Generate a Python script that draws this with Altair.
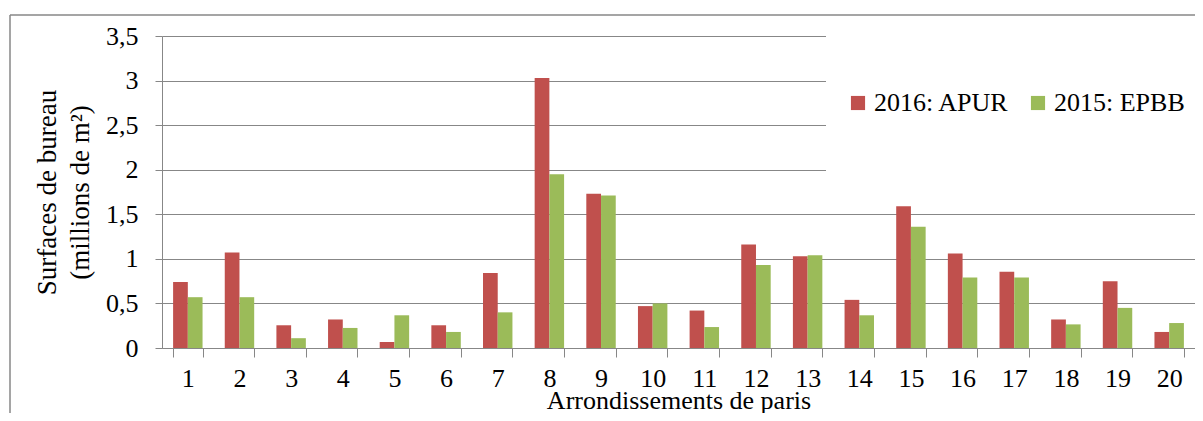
import altair as alt
import pandas as pd

arrondissements = [str(i) for i in range(1, 21)]
apur_2016 = [0.74, 1.07, 0.255, 0.32, 0.067, 0.255, 0.84, 3.03, 1.73, 0.47,
             0.42, 1.16, 1.03, 0.54, 1.59, 1.06, 0.855, 0.32, 0.75, 0.18]
epbb_2015 = [0.57, 0.57, 0.11, 0.225, 0.367, 0.18, 0.40, 1.95, 1.71, 0.50,
             0.235, 0.93, 1.04, 0.367, 1.36, 0.79, 0.79, 0.265, 0.45, 0.28]
series_names = ["2016: APUR", "2015: EPBB"]
series_colors = ["#C0504D", "#9BBB59"]
y_ticks = [0, 0.5, 1, 1.5, 2, 2.5, 3, 3.5]

rows = []
for a, v1, v2 in zip(arrondissements, apur_2016, epbb_2015):
    rows.append({"arr": a, "series": series_names[0], "value": v1})
    rows.append({"arr": a, "series": series_names[1], "value": v2})
df = pd.DataFrame(rows)

FONT = "Liberation Serif"
GRAY = "#878787"

bars = alt.Chart(df).mark_bar().encode(
    x=alt.X("arr:N", sort=arrondissements,
            scale=alt.Scale(paddingInner=0.43, paddingOuter=0.215),
            axis=alt.Axis(title="Arrondissements de paris", labelAngle=0,
                          tickBand="extent", tickSize=9, grid=False,
                          domainColor=GRAY, tickColor=GRAY,
                          labelFont=FONT, labelFontSize=26, labelPadding=8,
                          titleFont=FONT, titleFontSize=26, titleFontWeight="normal",
                          titleBaseline="alphabetic", titleY=60)),
    xOffset=alt.XOffset("series:N", sort=series_names),
    y=alt.Y("value:Q", scale=alt.Scale(domain=[0, 3.5], nice=False),
            axis=alt.Axis(title=["Surfaces de bureau", "(millions de m²)"],
                          values=y_ticks,
                          labelExpr="replace(toString(datum.value), '.', ',')",
                          tickSize=7, labelPadding=17,
                          domainColor=GRAY, tickColor=GRAY, gridColor=GRAY,
                          labelFont=FONT, labelFontSize=26,
                          titleFont=FONT, titleFontSize=27, titleFontWeight="normal",
                          titleLineHeight=33, titlePadding=11)),
    color=alt.Color("series:N", sort=series_names,
                    scale=alt.Scale(domain=series_names, range=series_colors),
                    legend=alt.Legend(title=None, orient="none", direction="horizontal",
                                      legendX=683, legendY=54,
                                      symbolType="square", symbolSize=200,
                                      symbolStrokeWidth=0,
                                      labelFont=FONT, labelFontSize=26,
                                      labelOffset=3, columnPadding=15)),
)

tiny = pd.DataFrame({"a": [0]})
cover = alt.Chart(tiny).mark_rect(color="white").encode(
    x=alt.value(664), x2=alt.value(1080), y=alt.value(-12), y2=alt.value(155))
frame_top = alt.Chart(tiny).mark_rule(color=GRAY, strokeWidth=1.5).encode(
    x=alt.value(-152), x2=alt.value(1080), y=alt.value(-21))
frame_left = alt.Chart(tiny).mark_rule(color=GRAY, strokeWidth=1.5).encode(
    x=alt.value(-152), y=alt.value(-21), y2=alt.value(420))

chart = alt.layer(cover, bars, frame_top, frame_left).properties(
    width=1033, height=312,
    autosize=alt.AutoSizeParams(type="none"),
    padding={"left": 154, "top": 28, "right": 0, "bottom": 65},
).configure_view(stroke=None).configure_axis(
    labelColor="black", titleColor="black"
).configure_legend(labelColor="black")

chart.save("out.html", embed_options={"renderer": "svg", "actions": False})
